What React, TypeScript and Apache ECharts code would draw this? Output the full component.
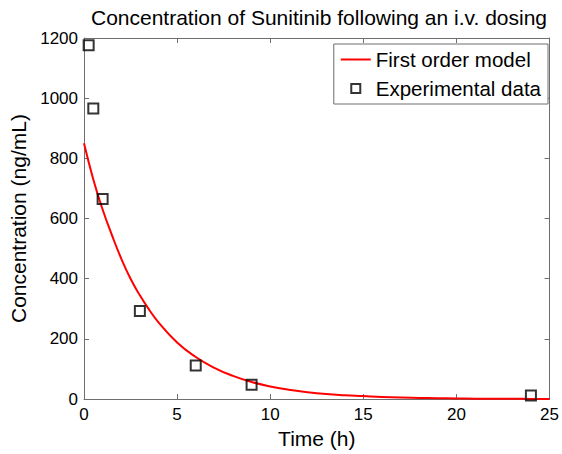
import React, { useEffect, useRef } from "react";
import * as echarts from "echarts";

const titleText = "Concentration of Sunitinib following an i.v. dosing";
const xName = "Time (h)";
const yName = "Concentration (ng/mL)";
const modelName = "First order model";
const dataName = "Experimental data";

const expTime = [0.25, 0.5, 1, 3, 6, 9, 24];
const expConc = [1176, 966, 665, 293, 112, 48, 12];

// First order model curve
const modelTime = [0, 0.5, 1, 1.5, 2, 2.5, 3, 3.5, 4, 5, 6, 7, 8, 9, 10, 11, 12, 13, 14, 15, 16, 17, 18, 19, 20, 21, 22, 23, 24, 25];
const modelConc = [850, 730, 630, 545, 467, 400, 345, 297, 255, 188, 140, 104, 77, 57, 42, 31, 23, 17, 13, 10, 7, 5, 4, 3, 2, 1.5, 1, 1, 0.5, 0.5];

const xTicks = [0, 25, 5];
const yTicks = [0, 1200, 200];

const FONT = "Liberation Sans";
const AXIS_COLOR = "#6e6e6e";

export default function App() {
  const ref = useRef<HTMLDivElement>(null);
  useEffect(() => {
    if (!ref.current) return;
    const chart = echarts.init(ref.current, null, { renderer: "svg" });
    const axisCommon = {
      axisLine: { show: true, onZero: false, lineStyle: { color: AXIS_COLOR, width: 1 } },
      axisTick: { show: true, inside: true, length: 5, lineStyle: { color: AXIS_COLOR } },
      splitLine: { show: false },
    };
    chart.setOption({
      animation: false,
      backgroundColor: "#ffffff",
      title: {
        text: titleText,
        left: 314,
        textAlign: "center",
        top: 2,
        textStyle: { fontFamily: FONT, fontSize: 21, fontWeight: "normal", color: "#000" },
      },
      legend: {
        orient: "vertical",
        right: 14,
        top: 44,
        padding: [5, 7, 5, 7],
        itemGap: 8,
        itemWidth: 30,
        itemHeight: 9,
        backgroundColor: "#ffffff",
        borderColor: AXIS_COLOR,
        borderWidth: 1,
        textStyle: { fontFamily: FONT, fontSize: 20.5, color: "#000", lineHeight: 21 },
        data: [
          {
            name: modelName,
            icon: "path://M0,0L30,0L30,2L0,2Z",
            itemStyle: { color: "#ff0000", borderWidth: 0 },
          },
          {
            name: dataName,
            icon: "path://M0,0L10,0L10,10L0,10Z",
            itemStyle: { color: "rgba(255,255,255,0)", borderColor: "#000", borderWidth: 2 },
          },
        ],
      },
      grid: { left: 84, top: 38, right: 10, bottom: 51, containLabel: false },
      xAxis: [
        {
          type: "value",
          min: xTicks[0],
          max: xTicks[1],
          interval: xTicks[2],
          name: xName,
          nameLocation: "middle",
          nameGap: 28,
          nameTextStyle: { fontFamily: FONT, fontSize: 21, color: "#000" },
          axisLabel: { fontFamily: FONT, fontSize: 17, color: "#000", margin: 7 },
          ...axisCommon,
        },
        {
          type: "value",
          position: "top",
          min: xTicks[0],
          max: xTicks[1],
          interval: xTicks[2],
          axisLabel: { show: false },
          ...axisCommon,
        },
      ],
      yAxis: [
        {
          type: "value",
          min: yTicks[0],
          max: yTicks[1],
          interval: yTicks[2],
          name: yName,
          nameLocation: "middle",
          nameGap: 52,
          nameTextStyle: { fontFamily: FONT, fontSize: 21, color: "#000" },
          axisLabel: {
            fontFamily: FONT,
            fontSize: 17,
            color: "#000",
            margin: 6,
            formatter: (v: number) => String(v),
          },
          ...axisCommon,
        },
        {
          type: "value",
          position: "right",
          min: yTicks[0],
          max: yTicks[1],
          interval: yTicks[2],
          axisLabel: { show: false },
          ...axisCommon,
        },
      ],
      series: [
        {
          name: modelName,
          type: "line",
          xAxisIndex: 0,
          yAxisIndex: 0,
          symbol: "none",
          smooth: true,
          data: modelTime.map((t, i) => [t, modelConc[i]]),
          lineStyle: { color: "#ff0000", width: 2 },
          itemStyle: { color: "#ff0000" },
          z: 2,
        },
        {
          name: dataName,
          type: "scatter",
          xAxisIndex: 0,
          yAxisIndex: 0,
          symbol: "rect",
          symbolSize: 10,
          data: expTime.map((t, i) => [t, expConc[i]]),
          itemStyle: { color: "rgba(255,255,255,0)", borderColor: "#000", borderWidth: 2 },
          z: 3,
        },
      ],
    });
    return () => chart.dispose();
  }, []);
  return (
    <div
      ref={ref}
      style={{ position: "absolute", left: 0, top: 0, width: 562, height: 454 }}
    />
  );
}
